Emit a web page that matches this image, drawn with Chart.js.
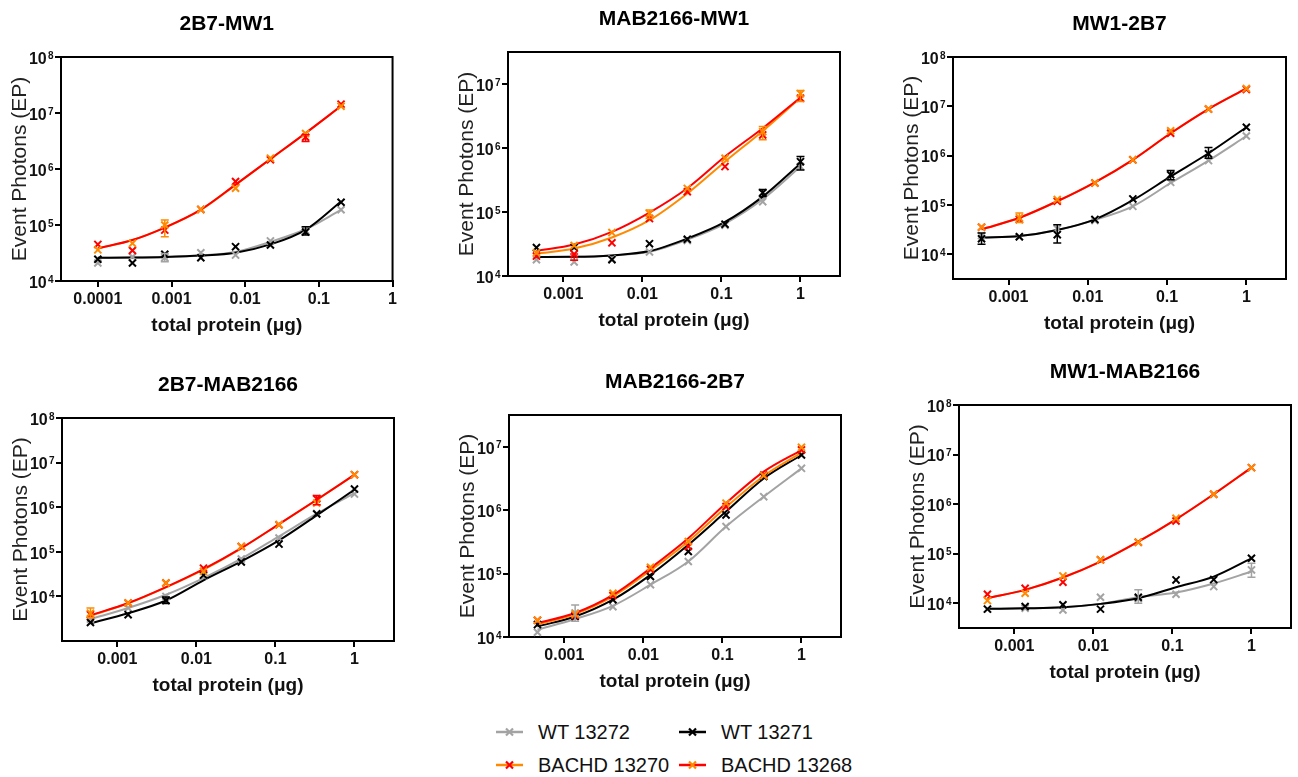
<!DOCTYPE html>
<html>
<head>
<meta charset="utf-8">
<script src="https://cdn.jsdelivr.net/npm/chart.js@4.4.1/dist/chart.umd.min.js"></script>
<style>
  body { margin: 0; width: 1298px; height: 777px; background: #fff; position: relative; overflow: hidden;
         font-family: "Liberation Sans", Arial, sans-serif; }
  .panel { position: absolute; }
  .lg { position: absolute; display: flex; align-items: center; font-size: 20px; color: #111; white-space: nowrap; }
  .lg svg { margin-right: 14px; }
</style>
</head>
<body>
<script>
// Series / labels
const panelTitles = ['2B7-MW1', 'MAB2166-MW1', 'MW1-2B7', '2B7-MAB2166', 'MAB2166-2B7', 'MW1-MAB2166'];
const seriesNames = ['WT 13272', 'WT 13271', 'BACHD 13270', 'BACHD 13268'];

// Doses (total protein, ug)
const doses2B7MW1 = [0.0001, 0.000295, 0.00081, 0.0025, 0.0074, 0.022, 0.066, 0.2];
const dosesStd = [0.000457, 0.00137, 0.00412, 0.0123, 0.037, 0.111, 0.333, 1];

// Tick values and labels
const xTicksWide = [0.0001, 0.001, 0.01, 0.1, 1];
const xTickLabelsWide = ['0.0001', '0.001', '0.01', '0.1', '1'];
const xTicksStd = [0.001, 0.01, 0.1, 1];
const xTickLabelsStd = ['0.001', '0.01', '0.1', '1'];
const yTicks4to8 = [1e4, 1e5, 1e6, 1e7, 1e8];
const yTicks4to7 = [1e4, 1e5, 1e6, 1e7];

// Axis limits per panel
const xLimits = [[10 ** -4.5, 1], [10 ** -3.7, 10 ** 0.5], [10 ** -3.7, 10 ** 0.5],
                 [10 ** -3.7, 10 ** 0.5], [10 ** -3.7, 10 ** 0.5], [10 ** -3.7, 10 ** 0.5]];
const yLimits = [[1e4, 1e8], [1e4, 10 ** 7.5], [10 ** 3.5, 1e8], [1e3, 1e8], [1e4, 10 ** 7.5], [10 ** 3.5, 1e8]];

// Measured points: [WT 13272, WT 13271, BACHD 13270, BACHD 13268]
const pts2B7_MW1 = [
    [21000, 27000, 26000, 32000, 29000, 52000, 80000, 187000],
    [24500, 21000, 30000, 26000, 41000, 44000, 75000, 255000],
    [45000, 35000, 81000, 190000, 597000, 1460000, 3700000, 14400000],
    [36000, 47000, 100000, 190000, 454000, 1560000, 4300000, 13200000]
];
const pts_MAB2166_MW1 = [
    [18000, 16600, 18500, 23800, 36000, 62000, 145000, 513000],
    [27800, 28000, 18000, 32000, 37500, 64500, 200000, 612000],
    [20500, 22000, 33000, 79000, 207000, 512000, 1600000, 6000000],
    [23000, 30000, 47700, 95000, 234000, 692000, 1800000, 7060000]
];
const pts_MW1_2B7 = [
    [24000, 22700, 33000, 48500, 94000, 288000, 795000, 2500000],
    [20700, 22700, 25000, 51000, 133000, 410000, 1090000, 3760000],
    [35600, 51000, 119000, 279000, 824000, 2850000, 8800000, 22000000],
    [35600, 55000, 129000, 279000, 824000, 3200000, 8800000, 23000000]
];
const pts2B7_MAB2166 = [
    [3100, 5500, 10000, 29000, 69000, 203000, 720000, 1970000],
    [2600, 3900, 8100, 30000, 59000, 149000, 703000, 2550000],
    [3900, 7100, 20000, 43000, 131000, 405000, 1550000, 5360000],
    [4200, 7100, 20000, 36500, 131000, 405000, 1240000, 5360000]
];
const pts_MAB2166_2B7 = [
    [11900, 24000, 30000, 66700, 155000, 551000, 1630000, 4560000],
    [15700, 21000, 38700, 90000, 223000, 841000, 3390000, 7400000],
    [18300, 22000, 45000, 117000, 267000, 1140000, 3580000, 8900000],
    [18300, 23000, 49000, 126000, 320000, 1290000, 3500000, 9770000]
];
const pts_MW1_MAB2166 = [
    [7600, 7900, 7300, 13200, 12400, 15200, 21700, 47000],
    [7600, 8600, 9300, 7600, 13200, 29500, 30000, 80700],
    [15200, 20000, 26600, 75000, 170000, 457000, 1580000, 5450000],
    [11300, 15900, 35600, 75000, 170000, 517000, 1580000, 5450000]
];

// Fitted curves read at the dose positions
const fit2B7_MW1 = [
    [26000, 26200, 26800, 28600, 33000, 50000, 84000, 187000],
    [26000, 26200, 26800, 28400, 32000, 45000, 82000, 263000],
    [38000, 54000, 90000, 187000, 521000, 1500000, 4360000, 13200000],
    [38500, 54000, 90000, 188000, 525000, 1510000, 4380000, 13300000]
];
const fit_MAB2166_MW1 = [
    [19800, 19900, 21000, 24000, 37000, 66000, 158000, 513000],
    [19800, 19900, 21000, 24500, 38500, 70000, 174000, 575000],
    [22400, 26800, 40000, 74500, 195000, 612000, 1850000, 6100000],
    [24600, 31000, 49000, 98000, 235000, 735000, 2040000, 6170000]
];
const fit_MW1_2B7 = [
    [21700, 23400, 31000, 50000, 94000, 279000, 795000, 2500000],
    [21700, 23400, 31000, 51000, 125000, 380000, 1120000, 3760000],
    [32000, 55000, 119000, 288000, 824000, 2850000, 8800000, 23000000],
    [32000, 55000, 119000, 288000, 824000, 2850000, 8800000, 23000000]
];
const fit2B7_MAB2166 = [
    [3100, 5500, 10900, 25800, 70000, 222000, 714000, 2080000],
    [2500, 4200, 8100, 23000, 61000, 180000, 656000, 2470000],
    [3700, 7000, 16000, 40000, 120000, 415000, 1460000, 5300000],
    [3750, 7100, 16200, 41000, 121000, 418000, 1470000, 5360000]
];
const fit_MAB2166_2B7 = [
    [13000, 19200, 31000, 66700, 155000, 551000, 1630000, 4560000],
    [14700, 21000, 38700, 95500, 284000, 948000, 3160000, 7400000],
    [15700, 23000, 43600, 112000, 320000, 1110000, 3460000, 8050000],
    [16600, 23900, 46000, 122000, 361000, 1290000, 4050000, 8870000]
];
const fit_MW1_MAB2166 = [
    [7700, 7900, 8300, 9700, 13200, 16400, 25000, 43600],
    [7700, 7900, 8300, 9700, 12600, 21000, 34500, 80700],
    [12600, 18600, 33000, 69000, 175000, 494000, 1580000, 5450000],
    [12600, 18600, 33000, 69000, 175000, 494000, 1580000, 5450000]
];

// Error bars: [series, dose index, low, high]
const err2B7_MW1 = [[3, 2, 62000, 123000], [2, 6, 3100000, 4100000], [0, 2, 22000, 31000], [1, 6, 66000, 93000]];
const err_MAB2166_MW1 = [[1, 7, 454000, 735000], [3, 7, 5350000, 7950000], [3, 6, 1340000, 2170000],
                         [2, 1, 17600, 22000], [1, 6, 174000, 224000], [3, 3, 79000, 107000]];
const err_MW1_2B7 = [[1, 2, 17000, 40000], [1, 0, 16000, 27000], [3, 1, 44000, 69000],
                     [1, 6, 890000, 1460000], [1, 5, 324000, 500000]];
const err2B7_MAB2166 = [[3, 0, 3300, 5500], [2, 6, 1140000, 1840000], [1, 2, 6900, 9700]];
const err_MAB2166_2B7 = [[0, 1, 17700, 32000]];
const err_MW1_MAB2166 = [[0, 4, 10000, 18600], [0, 7, 33500, 64000]];

const panelDoses = [doses2B7MW1, dosesStd, dosesStd, dosesStd, dosesStd, dosesStd];
const panelPoints = [pts2B7_MW1, pts_MAB2166_MW1, pts_MW1_2B7, pts2B7_MAB2166, pts_MAB2166_2B7, pts_MW1_MAB2166];
const panelFits = [fit2B7_MW1, fit_MAB2166_MW1, fit_MW1_2B7, fit2B7_MAB2166, fit_MAB2166_2B7, fit_MW1_MAB2166];
const panelErrs = [err2B7_MW1, err_MAB2166_MW1, err_MW1_2B7, err2B7_MAB2166, err_MAB2166_2B7, err_MW1_MAB2166];
const panelXTicks = [xTicksWide, xTicksStd, xTicksStd, xTicksStd, xTicksStd, xTicksStd];
const panelXLabels = [xTickLabelsWide, xTickLabelsStd, xTickLabelsStd, xTickLabelsStd, xTickLabelsStd, xTickLabelsStd];
const panelYTicks = [yTicks4to8, yTicks4to7, yTicks4to8, yTicks4to8, yTicks4to7, yTicks4to8];

// Styling
const FONT = '"Liberation Sans", Arial, sans-serif';
const GRAY = '#a3a3a3', BLACK = '#000000', RED = '#ff0000', ORANGE = '#ff8a00';
const lineColors = [GRAY, BLACK, ORANGE, RED];   // fit line colour per series
const markColors = [GRAY, BLACK, RED, ORANGE];   // marker colour per series

// Plot-box placement on the page (left, top, right, bottom)
const boxes = [
    { l: 61, t: 57, r: 396, b: 281 },
    { l: 508, t: 52, r: 843, b: 276 },
    { l: 953, t: 57, r: 1289, b: 279 },
    { l: 62, t: 418, r: 397, b: 641 },
    { l: 509, t: 415, r: 844, b: 637 },
    { l: 959, t: 405, r: 1294, b: 628 }
];
const Y_W = 61, TOP_H = 57, X_H = 58, PAD_R = 4, TICK_LEN = 6;

// Full frame round the plot area
const framePlugin = {
    id: 'frame',
    afterDraw(chart) {
        const { ctx, chartArea: a } = chart;
        ctx.save();
        ctx.strokeStyle = '#000';
        ctx.lineWidth = 2;
        ctx.beginPath();
        ctx.moveTo(a.left, a.top);
        ctx.lineTo(a.right, a.top);
        ctx.lineTo(a.right, a.bottom);
        ctx.stroke();
        ctx.restore();
    }
};

// Power-of-ten labels on the y axis ("10" with a raised exponent)
const powerLabelPlugin = {
    id: 'powerLabels',
    afterDraw(chart) {
        const s = chart.scales.y;
        const ctx = chart.ctx;
        ctx.save();
        ctx.fillStyle = '#111';
        ctx.textAlign = 'right';
        ctx.textBaseline = 'alphabetic';
        s.ticks.forEach(t => {
            const y = s.getPixelForValue(t.value);
            const exp = String(Math.round(Math.log10(t.value)));
            const xr = s.right - TICK_LEN - 1.5;
            ctx.font = `bold 10px ${FONT}`;
            const ew = ctx.measureText(exp).width;
            ctx.fillText(exp, xr, y + 1.6);
            ctx.font = `bold 16px ${FONT}`;
            ctx.fillText('10', xr - ew - 1.2, y + 6.8);
        });
        ctx.restore();
    }
};

// Error bars in data units, drawn through the scales
const errorBarPlugin = {
    id: 'errorBars',
    afterDatasetsDraw(chart, args, opts) {
        const { ctx, scales: { x, y } } = chart;
        ctx.save();
        ctx.lineWidth = 1.5;
        opts.bars.forEach(([s, j, lo, hi]) => {
            const px = x.getPixelForValue(opts.doses[j]);
            const y1 = y.getPixelForValue(lo), y2 = y.getPixelForValue(hi);
            ctx.strokeStyle = markColors[s];
            ctx.beginPath();
            ctx.moveTo(px, y1); ctx.lineTo(px, y2);
            ctx.moveTo(px - 4, y1); ctx.lineTo(px + 4, y1);
            ctx.moveTo(px - 4, y2); ctx.lineTo(px + 4, y2);
            ctx.stroke();
        });
        ctx.restore();
    }
};

function axisCommon() {
    return {
        type: 'logarithmic',
        grid: { drawOnChartArea: false, drawTicks: true, tickLength: TICK_LEN, color: '#000', lineWidth: 2 },
        border: { display: true, color: '#000', width: 2 }
    };
}

function makePanel(i) {
    const box = boxes[i];
    const left = box.l - Y_W, top = box.t - TOP_H;
    const w = box.r - left + PAD_R, h = TOP_H + (box.b - box.t) + X_H;

    const wrap = document.createElement('div');
    wrap.className = 'panel';
    wrap.style.left = left + 'px';
    wrap.style.top = top + 'px';
    const canvas = document.createElement('canvas');
    canvas.width = w;
    canvas.height = h;
    wrap.appendChild(canvas);
    document.body.appendChild(wrap);

    const doses = panelDoses[i];
    const datasets = [];
    // markers first so they sit above the curves
    [3, 2, 1, 0].forEach((s, k) => {
        datasets.push({
            label: seriesNames[s] + ' points',
            data: doses.map((x, j) => ({ x, y: panelPoints[i][s][j] })),
            showLine: false,
            pointStyle: 'crossRot',
            pointRadius: 5,
            pointBorderWidth: 2,
            pointBorderColor: markColors[s],
            pointBackgroundColor: markColors[s],
            order: k
        });
    });
    [3, 2, 1, 0].forEach((s, k) => {
        datasets.push({
            label: seriesNames[s] + ' fit',
            data: doses.map((x, j) => ({ x, y: panelFits[i][s][j] })),
            borderColor: lineColors[s],
            borderWidth: 2,
            pointRadius: 0,
            cubicInterpolationMode: 'monotone',
            fill: false,
            order: 4 + k
        });
    });

    const xLabels = panelXLabels[i];
    new Chart(canvas, {
        type: 'line',
        data: { datasets },
        options: {
            responsive: false,
            animation: false,
            layout: { padding: { left: 0, right: PAD_R, top: 0, bottom: 0 } },
            plugins: {
                legend: { display: false },
                tooltip: { enabled: false },
                errorBars: { bars: panelErrs[i], doses },
                title: {
                    display: true,
                    text: panelTitles[i],
                    fullSize: false,
                    color: '#000',
                    font: { family: FONT, size: 21, weight: 'bold', lineHeight: 1.2 },
                    padding: { top: 11.4, bottom: 20.4 }
                }
            },
            scales: {
                x: Object.assign(axisCommon(), {
                    min: xLimits[i][0],
                    max: xLimits[i][1],
                    afterBuildTicks: s => { s.ticks = panelXTicks[i].map(v => ({ value: v })); },
                    afterFit: s => { s.height = X_H; },
                    ticks: {
                        autoSkip: false, maxRotation: 0, padding: 3, color: '#111',
                        font: { family: FONT, size: 16, weight: 'bold' },
                        callback: (v, idx) => xLabels[idx]
                    },
                    title: {
                        display: true, text: 'total protein (\u03bcg)', color: '#111',
                        font: { family: FONT, size: 19, weight: 'bold', lineHeight: 1.2 },
                        padding: { top: 0, bottom: 1.6 }
                    }
                }),
                y: Object.assign(axisCommon(), {
                    min: yLimits[i][0],
                    max: yLimits[i][1],
                    afterBuildTicks: s => { s.ticks = panelYTicks[i].map(v => ({ value: v })); },
                    afterFit: s => { s.width = Y_W; },
                    ticks: { autoSkip: false, callback: () => '' },
                    title: {
                        display: true, text: 'Event Photons (EP)', color: '#222',
                        font: { family: FONT, size: 21, lineHeight: 1 },
                        padding: { top: 9.5, bottom: 0 }
                    }
                })
            }
        },
        plugins: [framePlugin, powerLabelPlugin, errorBarPlugin]
    });
}

panelTitles.forEach((t, i) => makePanel(i));

// Legend (two columns under the panels)
const legendSpots = [
    { x: 496, y: 732 }, { x: 679, y: 732 }, { x: 496, y: 765 }, { x: 679, y: 765 }
];
seriesNames.forEach((name, s) => {
    const el = document.createElement('div');
    el.className = 'lg';
    el.style.left = legendSpots[s].x + 'px';
    el.style.top = (legendSpots[s].y - 12) + 'px';
    el.style.height = '24px';
    el.innerHTML =
        `<svg width="28" height="24"><line x1="0" y1="12" x2="27" y2="12" stroke="${lineColors[s]}" stroke-width="2.5"/>` +
        `<path d="M10 8.5 L17 15.5 M17 8.5 L10 15.5" stroke="${markColors[s]}" stroke-width="2.2"/></svg>` +
        `<span>${name}</span>`;
    document.body.appendChild(el);
});
</script>
</body>
</html>
